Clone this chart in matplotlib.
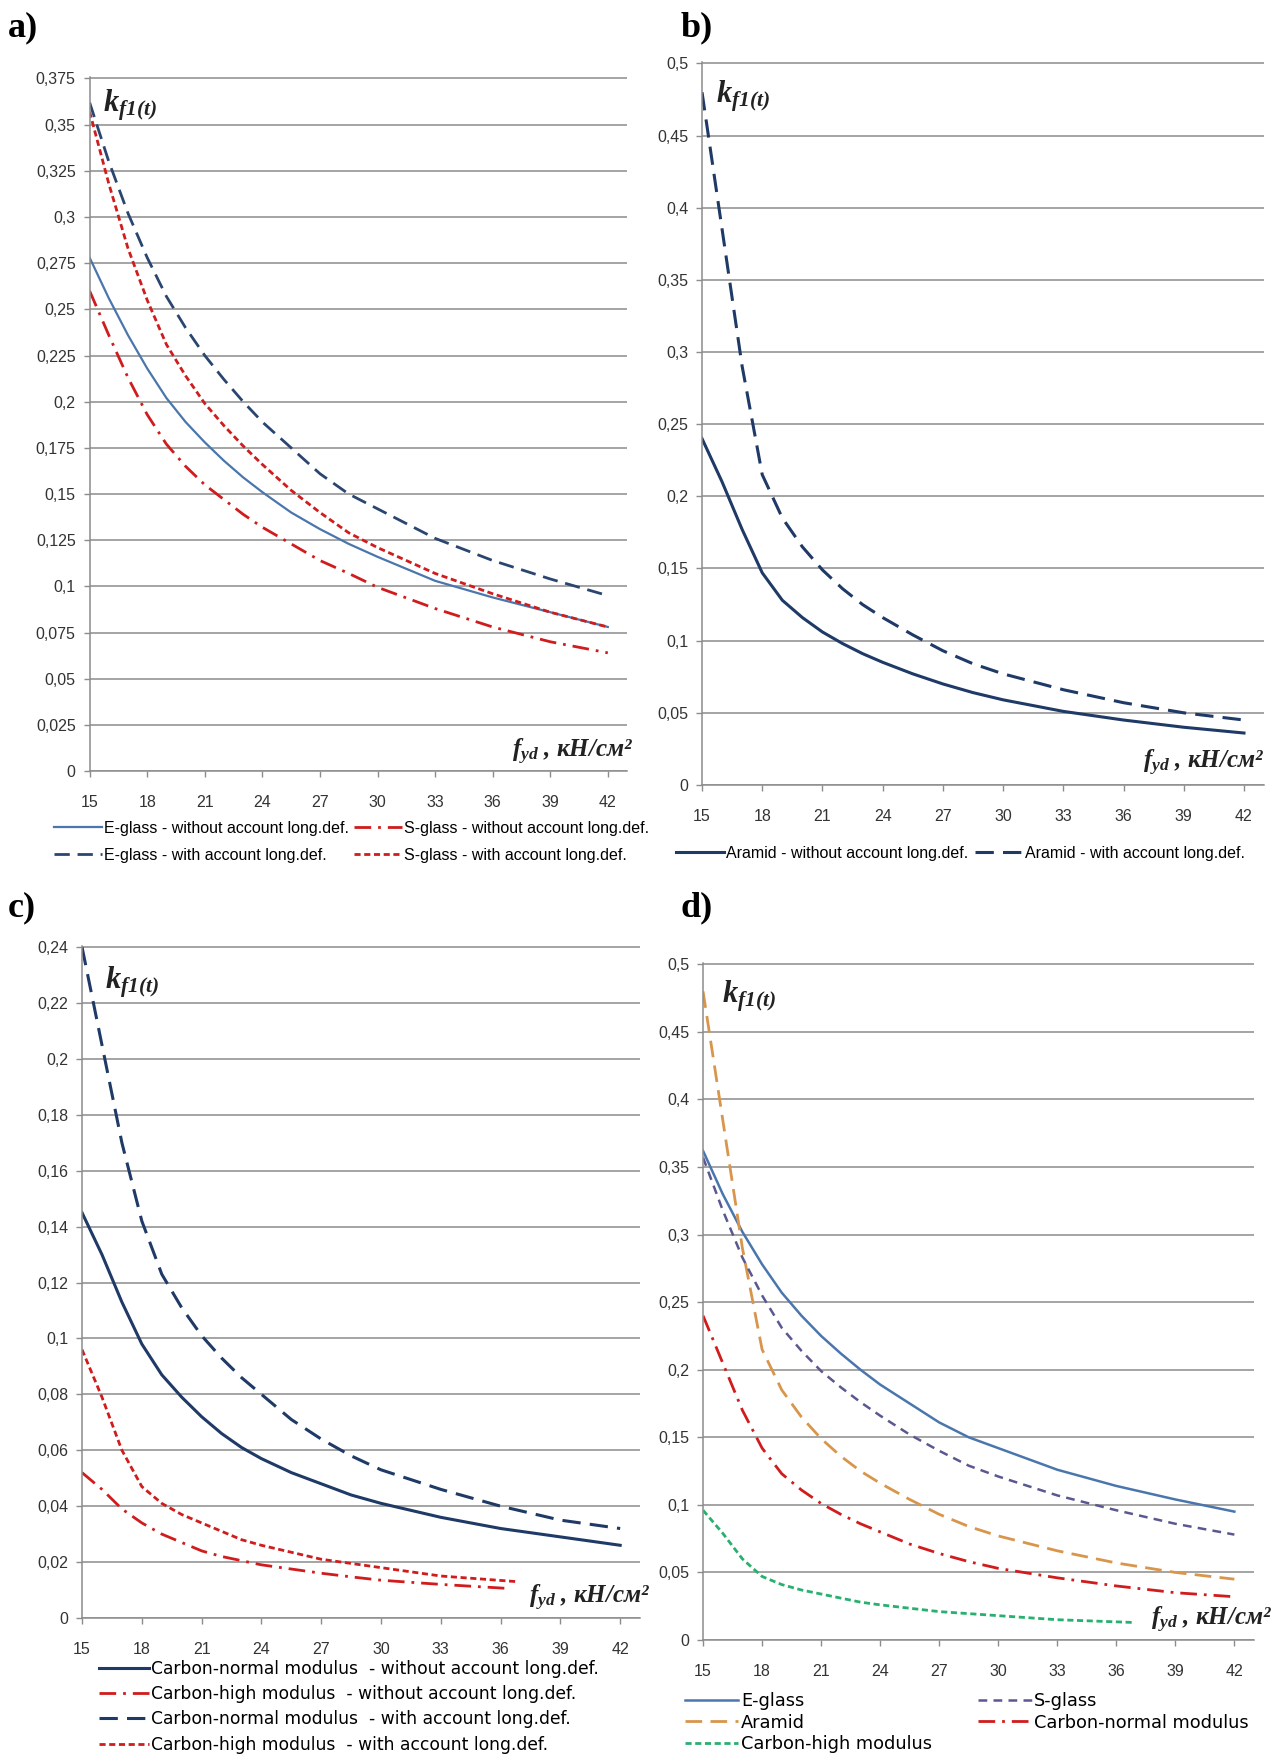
import numpy as np
import matplotlib
matplotlib.use("Agg")
import matplotlib.pyplot as plt
from matplotlib.ticker import FuncFormatter

plt.rcParams["font.family"] = ["Liberation Sans", "DejaVu Sans"]
plt.rcParams["mathtext.fontset"] = "custom"
plt.rcParams["mathtext.it"] = "Liberation Serif:italic:bold"
plt.rcParams["mathtext.rm"] = "Liberation Serif:italic:bold"

# values
x_vals = [15, 16, 17, 18, 19, 20, 21, 22, 23, 24, 25.5, 27, 28.5, 30, 33, 36, 39, 42]

e_glass_without = [0.278, 0.256, 0.236, 0.218, 0.202, 0.189, 0.178, 0.168, 0.159, 0.151, 0.140, 0.131, 0.123, 0.116, 0.103, 0.094, 0.086, 0.078]
e_glass_with = [0.362, 0.330, 0.302, 0.278, 0.257, 0.240, 0.225, 0.212, 0.200, 0.189, 0.175, 0.161, 0.150, 0.142, 0.126, 0.114, 0.104, 0.095]
s_glass_without = [0.260, 0.236, 0.213, 0.193, 0.177, 0.165, 0.155, 0.147, 0.139, 0.132, 0.123, 0.114, 0.107, 0.0995, 0.088, 0.078, 0.070, 0.064]
s_glass_with = [0.357, 0.318, 0.283, 0.255, 0.231, 0.214, 0.199, 0.187, 0.176, 0.166, 0.152, 0.140, 0.129, 0.121, 0.107, 0.096, 0.086, 0.078]

aramid_without = [0.240, 0.210, 0.177, 0.147, 0.128, 0.116, 0.106, 0.098, 0.091, 0.085, 0.077, 0.070, 0.064, 0.059, 0.051, 0.045, 0.040, 0.036]
aramid_with = [0.480, 0.385, 0.290, 0.215, 0.185, 0.165, 0.149, 0.136, 0.125, 0.116, 0.104, 0.093, 0.084, 0.077, 0.066, 0.057, 0.050, 0.045]

carbon_normal_without = [0.145, 0.130, 0.113, 0.098, 0.087, 0.079, 0.072, 0.066, 0.061, 0.057, 0.052, 0.048, 0.044, 0.041, 0.036, 0.032, 0.029, 0.026]
carbon_normal_with = [0.240, 0.205, 0.170, 0.142, 0.123, 0.111, 0.101, 0.093, 0.086, 0.080, 0.071, 0.064, 0.058, 0.053, 0.046, 0.040, 0.035, 0.032]

x_ch_without = [15, 16, 17, 18, 19, 20, 21, 22, 23, 24, 25.5, 27, 28.5, 30, 33, 36.5]
carbon_high_without = [0.052, 0.046, 0.039, 0.034, 0.030, 0.027, 0.024, 0.022, 0.0205, 0.019, 0.0175, 0.016, 0.0147, 0.0135, 0.012, 0.0105]
x_ch_with = [15, 16, 17, 18, 19, 20, 21, 22, 23, 24, 25.5, 27, 28.5, 30, 33, 36.8]
carbon_high_with = [0.096, 0.079, 0.060, 0.047, 0.041, 0.037, 0.034, 0.031, 0.028, 0.026, 0.0235, 0.021, 0.0195, 0.018, 0.015, 0.013]

x_ticks = [15, 18, 21, 24, 27, 30, 33, 36, 39, 42]

blue_light = "#4a76ad"
blue_dark = "#2a4670"
navy = "#1f3a66"
red = "#d01c1c"
purple = "#5a5890"
orange = "#d8964c"
green = "#27b06e"
grid_col = "#8c8c8c"

solid = "-"
long_dash = (0, (5.5, 2.8))
dash_dot = (0, (6, 2.5, 1, 2.5))
short_dash = (0, (2.2, 1.3))


def comma_fmt(v, pos):
    return f"{v:g}".replace(".", ",")


def style_axes(ax, ymax, ystep):
    n = int(round(ymax / ystep))
    ax.set_xlim(15, 43)
    ax.set_ylim(0, ymax * 1.002)
    ax.set_yticks(np.round(np.arange(n + 1) * ystep, 4))
    ax.set_xticks(x_ticks)
    ax.yaxis.set_major_formatter(FuncFormatter(comma_fmt))
    ax.grid(axis="y", color=grid_col, lw=1.1)
    ax.set_axisbelow(True)
    ax.spines["top"].set_visible(False)
    ax.spines["right"].set_visible(False)
    ax.spines["left"].set_color(grid_col)
    ax.spines["bottom"].set_color(grid_col)
    ax.spines["left"].set_linewidth(1.1)
    ax.spines["bottom"].set_linewidth(1.1)
    ax.tick_params(axis="y", length=4, width=1, color=grid_col,
                   labelsize=11.5, labelcolor="#333333", pad=6)
    ax.tick_params(axis="x", length=4, width=1, color=grid_col,
                   labelsize=11.5, labelcolor="#333333", pad=13)


def axis_labels(ax, kx, ky, fx, fy):
    ax.text(kx, ky, r"$k_{f1(t)}$", transform=ax.transAxes,
            ha="left", va="top", fontsize=22, color="#222222")
    ax.text(fx, fy, r"$f_{yd}$ , кН/см²", transform=ax.transAxes,
            ha="right", va="bottom", fontsize=18, color="#222222",
            family="Liberation Serif", style="italic", weight="bold",
            clip_on=False)


fig = plt.figure(figsize=(12.82, 17.64), dpi=100)

# a) glass fibres
ax_a = fig.add_axes([0.0699, 0.5629, 0.4192, 0.3934])
style_axes(ax_a, 0.375, 0.025)
ax_a.plot(x_vals, e_glass_without, color=blue_light, lw=1.6, ls=solid,
          label="E-glass - without account long.def.")
ax_a.plot(x_vals, e_glass_with, color=blue_dark, lw=2.0, ls=long_dash,
          label="E-glass - with account long.def.")
ax_a.plot(x_vals, s_glass_without, color=red, lw=2.0, ls=dash_dot,
          label="S-glass - without account long.def.")
ax_a.plot(x_vals, s_glass_with, color=red, lw=2.0, ls=short_dash,
          label="S-glass - with account long.def.")
axis_labels(ax_a, 0.025, 0.985, 1.011, 0.006)
ax_a.legend(loc="upper left", bbox_to_anchor=(54 / 1282, 1 - 821 / 1764),
            bbox_transform=fig.transFigure, ncol=2, frameon=False,
            fontsize=11.5, handlelength=3.0, handletextpad=0.15,
            columnspacing=0.3, labelspacing=0.75, borderpad=0, borderaxespad=0)

# b) aramid
ax_b = fig.add_axes([0.5476, 0.5550, 0.4384, 0.4099])
style_axes(ax_b, 0.5, 0.05)
ax_b.plot(x_vals, aramid_without, color=navy, lw=2.2, ls=solid,
          label="Aramid - without account long.def.")
ax_b.plot(x_vals, aramid_with, color=navy, lw=2.2, ls=(0, (6, 3)),
          label="Aramid - with account long.def.")
axis_labels(ax_b, 0.025, 0.977, 1.0, 0.01)
ax_b.legend(loc="upper left", bbox_to_anchor=(676 / 1282, 1 - 846 / 1764),
            bbox_transform=fig.transFigure, ncol=2, frameon=False,
            fontsize=11.5, handlelength=3.0, handletextpad=0.15,
            columnspacing=0.4, borderpad=0, borderaxespad=0)

# c) carbon
ax_c = fig.add_axes([0.0640, 0.0828, 0.4353, 0.3810])
style_axes(ax_c, 0.24, 0.02)
ax_c.plot(x_vals, carbon_normal_without, color=navy, lw=2.2, ls=solid,
          label="Carbon-normal modulus  - without account long.def.")
ax_c.plot(x_ch_without, carbon_high_without, color=red, lw=2.0, ls=dash_dot,
          label="Carbon-high modulus  - without account long.def.")
ax_c.plot(x_vals, carbon_normal_with, color=navy, lw=2.2, ls=(0, (6, 3)),
          label="Carbon-normal modulus  - with account long.def.")
ax_c.plot(x_ch_with, carbon_high_with, color=red, lw=2.0, ls=short_dash,
          label="Carbon-high modulus  - with account long.def.")
axis_labels(ax_c, 0.041, 0.972, 1.018, 0.007)
ax_c.legend(loc="upper left", bbox_to_anchor=(99 / 1282, 1 - 1660 / 1764),
            bbox_transform=fig.transFigure, ncol=1, frameon=False,
            prop={"family": "DejaVu Sans", "size": 12.3},
            handlelength=2.9, handletextpad=0.15, labelspacing=0.42,
            borderpad=0, borderaxespad=0)

# d) all materials with long-term deformation
ax_d = fig.add_axes([0.5484, 0.0703, 0.4298, 0.3838])
style_axes(ax_d, 0.5, 0.05)
ax_d.plot(x_vals, e_glass_with, color=blue_light, lw=1.8, ls=solid,
          label="E-glass")
ax_d.plot(x_vals, aramid_with, color=orange, lw=2.0, ls=(0, (6, 3)),
          label="Aramid")
ax_d.plot(x_ch_with, carbon_high_with, color=green, lw=2.0, ls=short_dash,
          label="Carbon-high modulus")
ax_d.plot(x_vals, s_glass_with, color=purple, lw=1.8, ls=(0, (3.5, 2.5)),
          label="S-glass")
ax_d.plot(x_vals, carbon_normal_with, color=red, lw=2.0, ls=dash_dot,
          label="Carbon-normal modulus")
axis_labels(ax_d, 0.034, 0.977, 1.034, 0.007)
ax_d.legend(loc="upper left", bbox_to_anchor=(685 / 1282, 1 - 1692 / 1764),
            bbox_transform=fig.transFigure, ncol=2, frameon=False,
            prop={"family": "DejaVu Sans", "size": 12.8},
            handlelength=3.0, handletextpad=0.15, labelspacing=0.2,
            columnspacing=2.6, borderpad=0, borderaxespad=0)

# panel letters
for letter, x, y in [("a)", 8, 11), ("b)", 681, 11), ("c)", 8, 891), ("d)", 681, 891)]:
    fig.text(x / 1282, 1 - y / 1764, letter, ha="left", va="top",
             fontsize=26, weight="bold", family="Liberation Serif")

fig.savefig("out.png", dpi=100)
print("saved out.png")
